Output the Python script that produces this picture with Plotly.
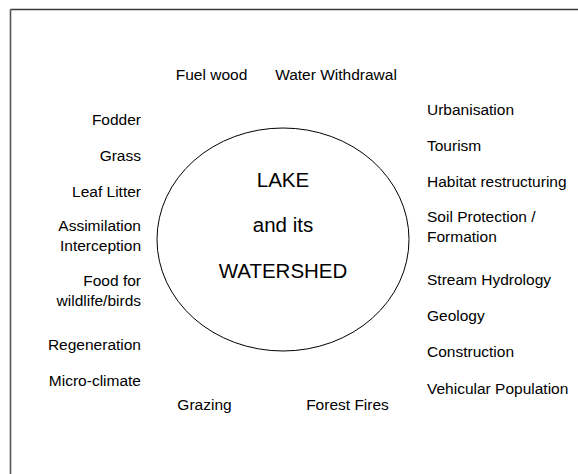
import plotly.graph_objects as go

# ---- data ----
left_labels = ["Fodder", "Grass", "Leaf Litter", "Assimilation<br>Interception",
               "Food for<br>wildlife/birds", "Regeneration", "Micro-climate"]
right_labels = ["Urbanisation", "Tourism", "Habitat restructuring",
                "Soil Protection /<br>Formation", "Stream Hydrology", "Geology",
                "Construction", "Vehicular Population"]
top_labels = ["Fuel wood", "Water Withdrawal"]
bottom_labels = ["Grazing", "Forest Fires"]
center_labels = ["LAKE", "and its", "WATERSHED"]

# ---- layout positions (pixel space of the page) ----
left_x = [141] * len(left_labels)
left_y = [121, 157, 193, 237.5, 292, 346, 382]
right_x = [427] * len(right_labels)
right_y = [111, 147, 183, 228, 281, 317, 353, 390]
top_x = [211.5, 336]
top_y = [76, 76]
bottom_x = [204.5, 347.5]
bottom_y = [406, 406]
center_x = [283, 283, 283]
center_y = [182, 227, 273]

FONT = "Liberation Sans, Arial, sans-serif"
FS = 15.5
fig = go.Figure()

fig.add_trace(go.Scatter(x=left_x, y=left_y, text=left_labels, mode="text",
                         textposition="middle left",
                         textfont=dict(family=FONT, size=FS, color="#000"),
                         hoverinfo="skip"))
fig.add_trace(go.Scatter(x=right_x, y=right_y, text=right_labels, mode="text",
                         textposition="middle right",
                         textfont=dict(family=FONT, size=FS, color="#000"),
                         hoverinfo="skip"))
fig.add_trace(go.Scatter(x=top_x + bottom_x, y=top_y + bottom_y,
                         text=top_labels + bottom_labels, mode="text",
                         textposition="middle center",
                         textfont=dict(family=FONT, size=FS, color="#000"),
                         hoverinfo="skip"))
fig.add_trace(go.Scatter(x=center_x, y=center_y, text=center_labels, mode="text",
                         textposition="middle center",
                         textfont=dict(family=FONT, size=20.5, color="#000"),
                         hoverinfo="skip"))

# ellipse
fig.add_shape(type="circle", xref="x", yref="y", x0=157, x1=409, y0=128, y1=351,
              line=dict(color="#000", width=1))
# frame lines
fig.add_shape(type="line", xref="x", yref="y", x0=10.5, x1=10.5, y0=9.5, y1=480,
              line=dict(color="#555", width=1.6))
fig.add_shape(type="line", xref="x", yref="y", x0=10.5, x1=590, y0=9.5, y1=9.5,
              line=dict(color="#3a3a3a", width=1.6))

fig.update_layout(
    width=578, height=474, margin=dict(l=0, r=0, t=0, b=0),
    paper_bgcolor="white", plot_bgcolor="white", showlegend=False,
    xaxis=dict(range=[0, 578], visible=False, fixedrange=True),
    yaxis=dict(range=[474, 0], visible=False, fixedrange=True),
)

fig.write_html(
    "out.html",
    config={"displayModeBar": False, "staticPlot": True},
    post_script="document.body.style.margin='0';document.body.style.overflow='hidden';",
)
